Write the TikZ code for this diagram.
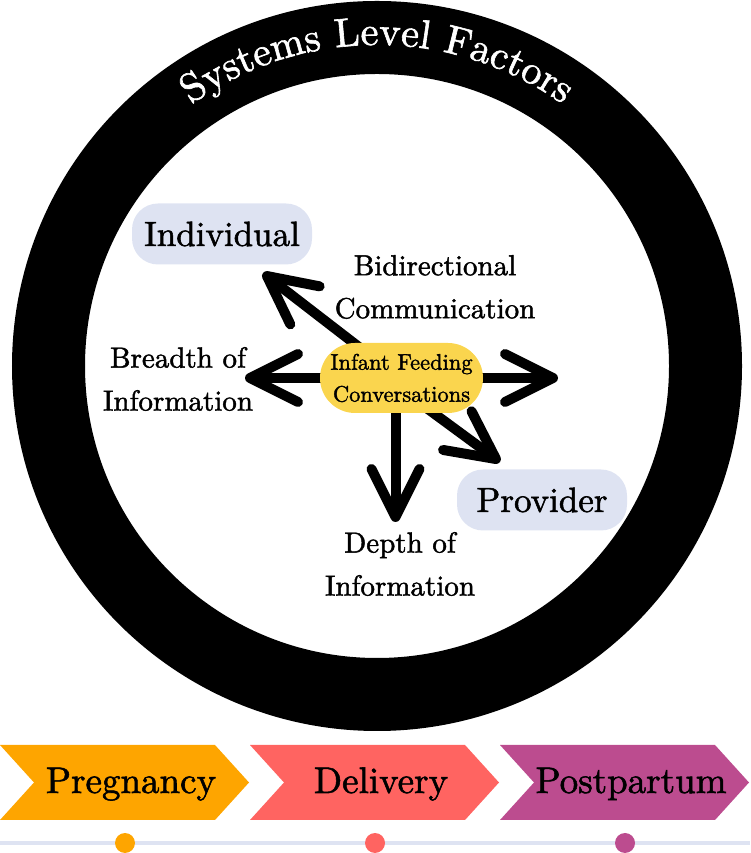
\documentclass[tikz,border=0pt]{standalone}
\usepackage{fontspec}
\usetikzlibrary{arrows.meta,decorations.text,backgrounds}
\newfontfamily\heavy{lmroman10-regular.otf}[FakeBold=1.5]
\definecolor{pillyellow}{HTML}{FAD54E}
\definecolor{boxblue}{HTML}{DEE3F2}
\definecolor{stageorange}{HTML}{FEA500}
\definecolor{stagecoral}{HTML}{FF6461}
\definecolor{stageplum}{HTML}{BC4C8F}
\tikzset{
  flow/.style={line width=10pt,-{Straight Barb[length=48pt,width=48pt,round]}},
  party/.style={fill=boxblue,rounded corners=26pt,inner sep=0pt,minimum height=61pt,font=\heavy\fontsize{35}{35}\selectfont},
  factor/.style={align=center,inner sep=0pt,font=\heavy\fontsize{29}{43}\selectfont},
}
\begin{document}
\begin{tikzpicture}[x=1pt,y=1pt]
        \useasboundingbox (0,0) rectangle (750,853);
        %% ring
        \coordinate (ring) at (377,487);
        \draw[line width=73pt] (ring) circle (328.5);
        \path[decorate,decoration={text along path,text align=center,
            text={|\color{white}\heavy\fontsize{40.5}{40.5}\selectfont|Systems Level Factors}}]
            (ring) ++(160:321) arc[start angle=160,end angle=20,radius=321];
        %% centre
        \node[fill=pillyellow,rounded corners=35pt,minimum width=163pt,minimum height=70pt,inner sep=0pt,
            align=center,font=\heavy\fontsize{22.5}{32}\selectfont] (conv) at (401.5,475) {Infant Feeding\\Conversations};
        \node[party,minimum width=180pt] (indiv) at (222,619) {Individual};
        \node[party,minimum width=170pt] (prov) at (542,353) {Provider};
        \node[factor] (bidir) at (435,566) {Bidirectional\\Communication};
        \node[factor] (breadth) at (178,474) {Breadth of\\Information};
        \node[factor] (depth) at (400,289) {Depth of\\Information};
        %% arrows
        \coordinate (tipL) at (245,475);
        \coordinate (tipR) at (558,475);
        \coordinate (tipUL) at (263,580);
        \coordinate (tipD) at (395.5,331);
        \coordinate (tipDR) at (500,391);
        \begin{scope}[on background layer]
        \draw[flow] (conv.center) -- (tipL);
        \draw[flow] (conv.center) -- (tipR);
        \draw[flow] ([shift={(-33.5,24)}]conv.center) -- (tipUL);
        \draw[flow] ([xshift=-6pt]conv.center) -- (tipD);
        \draw[flow] ([shift={(15.5,-23)}]conv.center) -- (tipDR);
        \end{scope}
        %% timeline
        \draw[boxblue,line width=4pt] (0,10) -- (750,10);
        \foreach \x/\c/\t in {0/stageorange/Pregnancy,250/stagecoral/Delivery,500/stageplum/Postpartum}{
            \fill[\c] (\x,108) -- ++(215,0) -- ++(34,-37.5) -- ++(-34,-37.5) -- ++(-215,0) -- ++(34,37.5) -- cycle;
            \node[anchor=base,font=\heavy\fontsize{37}{37}\selectfont] (stage\t) at (\x+131,60) {\t};
            \fill[\c] (\x+125,10) circle (10);
        }
    \end{tikzpicture}
\end{document}
